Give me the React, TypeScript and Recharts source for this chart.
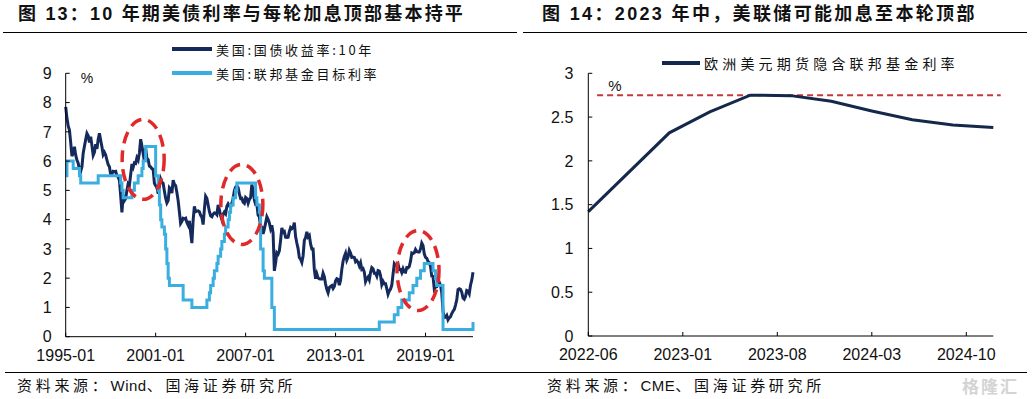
import React from 'react';
import { LineChart, Line, XAxis, YAxis, ReferenceDot, ReferenceLine, Legend } from 'recharts';

const FONT = '"Liberation Sans", Arial, "Noto Sans CJK SC", sans-serif';
const CJK = '"Noto Sans CJK SC", "Liberation Sans", sans-serif';

const NAVY = '#152a5c';
const SKY = '#3aaee0';
const DARK = '#14284b';
const RED = '#e0292b';

// ---- figure 13: monthly, 1995-01 .. 2022-03 ----
const treasury10y = [
  7.85, 7.47, 7.2, 7.06, 6.63, 6.17, 6.28, 6.49, 6.2, 6.04, 5.93, 5.71,
  5.65, 5.81, 6.27, 6.51, 6.74, 6.95, 6.87, 6.64, 6.83, 6.53, 6.2, 6.3,
  6.58, 6.42, 6.75, 6.95, 6.71, 6.49, 6.22, 6.3, 6.21, 6.03, 5.88, 5.81,
  5.54, 5.57, 5.65, 5.64, 5.65, 5.5, 5.46, 5.34, 4.81, 4.25, 4.83, 4.65,
  4.72, 5.0, 5.23, 5.18, 5.54, 5.9, 5.79, 5.94, 5.92, 6.11, 6.03, 6.28,
  6.75, 6.52, 6.26, 5.99, 6.44, 6.1, 6.05, 5.83, 5.8, 5.74, 5.72, 5.24,
  5.16, 5.1, 4.89, 5.14, 5.39, 5.28, 5.24, 4.97, 4.73, 4.57, 4.65, 5.09,
  5.04, 4.91, 5.35, 5.21, 5.16, 4.93, 4.65, 4.26, 3.87, 3.94, 4.05, 4.03,
  4.05, 3.9, 3.81, 3.96, 3.57, 3.2, 3.98, 4.45, 4.27, 4.29, 4.3, 4.27,
  4.15, 4.08, 3.83, 4.35, 4.8, 4.73, 4.5, 4.28, 4.13, 4.1, 4.19, 4.23,
  4.22, 4.17, 4.5, 4.34, 4.14, 4.0, 4.18, 4.26, 4.2, 4.46, 4.54, 4.47,
  4.42, 4.57, 4.72, 4.99, 5.11, 5.15, 5.09, 4.88, 4.72, 4.73, 4.6, 4.56,
  4.76, 4.72, 4.56, 4.69, 4.75, 5.2, 5.0, 4.67, 4.52, 4.53, 4.15, 4.1,
  3.74, 3.74, 3.51, 3.68, 3.88, 4.1, 4.01, 3.89, 3.69, 3.81, 3.53, 2.25,
  2.52, 2.87, 2.82, 2.93, 3.29, 3.72, 3.56, 3.59, 3.4, 3.39, 3.4, 3.59,
  3.73, 3.69, 3.73, 3.9, 3.42, 3.2, 3.01, 2.7, 2.65, 2.54, 2.76, 3.29,
  3.39, 3.58, 3.41, 3.46, 3.17, 3.0, 3.0, 2.3, 1.98, 2.15, 2.01, 1.98,
  1.97, 1.97, 2.17, 2.05, 1.8, 1.62, 1.5, 1.68, 1.72, 1.75, 1.65, 1.72,
  1.91, 1.98, 1.96, 1.76, 1.93, 2.3, 2.58, 2.74, 2.85, 2.62, 2.72, 2.95,
  2.86, 2.71, 2.72, 2.71, 2.56, 2.6, 2.54, 2.42, 2.53, 2.3, 2.33, 2.21,
  1.88, 1.98, 2.04, 1.94, 2.2, 2.36, 2.32, 2.17, 2.17, 2.07, 2.26, 2.24,
  2.09, 1.78, 1.89, 1.81, 1.81, 1.64, 1.45, 1.56, 1.63, 1.76, 2.14, 2.49,
  2.43, 2.42, 2.48, 2.3, 2.3, 2.19, 2.32, 2.21, 2.2, 2.36, 2.35, 2.4,
  2.58, 2.86, 2.84, 2.87, 2.98, 2.91, 2.89, 2.89, 3.0, 3.2, 3.12, 2.83,
  2.71, 2.68, 2.57, 2.53, 2.4, 2.07, 2.06, 1.63, 1.7, 1.71, 1.81, 1.86,
  1.76, 1.5, 0.87, 0.66, 0.67, 0.73, 0.58, 0.65, 0.68, 0.79, 0.87, 0.93,
  1.08, 1.26, 1.61, 1.64, 1.62, 1.52, 1.32, 1.28, 1.37, 1.58, 1.56, 1.47,
  1.76, 1.93, 2.2,
];

const fedTarget = [
  5.5, 6, 6, 6, 6, 6, 5.75, 5.75, 5.75, 5.75, 5.75, 5.5,
  5.25, 5.25, 5.25, 5.25, 5.25, 5.25, 5.25, 5.25, 5.25, 5.25, 5.25, 5.25,
  5.25, 5.25, 5.5, 5.5, 5.5, 5.5, 5.5, 5.5, 5.5, 5.5, 5.5, 5.5,
  5.5, 5.5, 5.5, 5.5, 5.5, 5.5, 5.5, 5.5, 5.25, 5.0, 4.75, 4.75,
  4.75, 4.75, 4.75, 4.75, 4.75, 5.0, 5.0, 5.25, 5.25, 5.25, 5.5, 5.5,
  5.5, 5.75, 6.0, 6.0, 6.5, 6.5, 6.5, 6.5, 6.5, 6.5, 6.5, 6.5,
  5.5, 5.5, 5.0, 4.5, 4.0, 3.75, 3.75, 3.5, 3.0, 2.5, 2.0, 1.75,
  1.75, 1.75, 1.75, 1.75, 1.75, 1.75, 1.75, 1.75, 1.75, 1.75, 1.25, 1.25,
  1.25, 1.25, 1.25, 1.25, 1.25, 1.0, 1.0, 1.0, 1.0, 1.0, 1.0, 1.0,
  1.0, 1.0, 1.0, 1.0, 1.0, 1.25, 1.25, 1.5, 1.75, 1.75, 2.0, 2.25,
  2.25, 2.5, 2.75, 2.75, 3.0, 3.25, 3.25, 3.5, 3.75, 3.75, 4.0, 4.25,
  4.5, 4.5, 4.75, 4.75, 5.0, 5.25, 5.25, 5.25, 5.25, 5.25, 5.25, 5.25,
  5.25, 5.25, 5.25, 5.25, 5.25, 5.25, 5.25, 5.25, 4.75, 4.5, 4.5, 4.25,
  3.0, 3.0, 2.25, 2.0, 2.0, 2.0, 2.0, 2.0, 2.0, 1.0, 1.0, 0.25,
  0.25, 0.25, 0.25, 0.25, 0.25, 0.25, 0.25, 0.25, 0.25, 0.25, 0.25, 0.25,
  0.25, 0.25, 0.25, 0.25, 0.25, 0.25, 0.25, 0.25, 0.25, 0.25, 0.25, 0.25,
  0.25, 0.25, 0.25, 0.25, 0.25, 0.25, 0.25, 0.25, 0.25, 0.25, 0.25, 0.25,
  0.25, 0.25, 0.25, 0.25, 0.25, 0.25, 0.25, 0.25, 0.25, 0.25, 0.25, 0.25,
  0.25, 0.25, 0.25, 0.25, 0.25, 0.25, 0.25, 0.25, 0.25, 0.25, 0.25, 0.25,
  0.25, 0.25, 0.25, 0.25, 0.25, 0.25, 0.25, 0.25, 0.25, 0.25, 0.25, 0.25,
  0.25, 0.25, 0.25, 0.25, 0.25, 0.25, 0.25, 0.25, 0.25, 0.25, 0.25, 0.5,
  0.5, 0.5, 0.5, 0.5, 0.5, 0.5, 0.5, 0.5, 0.5, 0.5, 0.5, 0.75,
  0.75, 0.75, 1.0, 1.0, 1.0, 1.25, 1.25, 1.25, 1.25, 1.25, 1.25, 1.5,
  1.5, 1.5, 1.75, 1.75, 1.75, 2.0, 2.0, 2.0, 2.25, 2.25, 2.25, 2.5,
  2.5, 2.5, 2.5, 2.5, 2.5, 2.5, 2.25, 2.25, 2.0, 1.75, 1.75, 1.75,
  1.75, 1.75, 0.25, 0.25, 0.25, 0.25, 0.25, 0.25, 0.25, 0.25, 0.25, 0.25,
  0.25, 0.25, 0.25, 0.25, 0.25, 0.25, 0.25, 0.25, 0.25, 0.25, 0.25, 0.25,
  0.25, 0.25, 0.5,
];

const leftTicks = ['1995-01', '2001-01', '2007-01', '2013-01', '2019-01'];
const leftYTicks = [0, 1, 2, 3, 4, 5, 6, 7, 8, 9];

// circled rate-hike tops: [month, yield centre]
const hikeTops: [string, number][] = [
  ['2000-03', 6.06],
  ['2006-10', 4.52],
  ['2018-07', 2.26],
];

const months: string[] = [];
for (let i = 0; i < treasury10y.length; i++) {
  const y = 1995 + Math.floor(i / 12);
  const m = (i % 12) + 1;
  months.push(`${y}-${m < 10 ? '0' + m : m}`);
}
const leftData = months.map((d, i) => ({ date: d, y10: treasury10y[i], ffr: fedTarget[i] }));

// ---- figure 14 ----
const futDates = ['2022-06', '2022-12', '2023-03', '2023-06', '2023-09', '2023-12', '2024-03', '2024-06', '2024-09', '2024-12'];
const futRate = [1.42, 2.32, 2.56, 2.75, 2.745, 2.68, 2.57, 2.47, 2.41, 2.38];
const rightTickMonths = [0, 7, 14, 21, 28];
const rightTickLabels = ['2022-06', '2023-01', '2023-08', '2024-03', '2024-10'];
const rightYTicks = [0, 0.5, 1, 1.5, 2, 2.5, 3];
const peakLevel = 2.75;

const monthIndex = (s: string) => {
  const [y, m] = s.split('-').map(Number);
  return (y - 2022) * 12 + (m - 6);
};
const rightData = futDates.map((d, i) => ({ m: monthIndex(d), rate: futRate[i] }));

const XTick = ({ x, y, payload, fmt }: any) => (
  <g>
    <line x1={x} x2={x} y1={y} y2={y - 4} stroke="#000" />
    <text x={x} y={y + 24} textAnchor="middle" fontSize={16} fontFamily={FONT} fill="#111">
      {fmt ? fmt(payload.value) : payload.value}
    </text>
  </g>
);

const YTick = ({ x, y, payload, gap }: any) => (
  <g>
    <line x1={x} x2={x + 4} y1={y} y2={y} stroke="#000" />
    <text x={x - gap} y={y} dy="0.355em" textAnchor="end" fontSize={16} fontFamily={FONT} fill="#111">
      {payload.value}
    </text>
  </g>
);

const LegendBox = ({ payload, fontSize, spacing, sample }: any) => (
  <div>
    {(payload || []).map((p: any) => (
      <div key={p.value} style={{ display: 'flex', alignItems: 'center', height: 24 }}>
        <span style={{ display: 'inline-block', width: sample, height: 4, background: p.color, marginRight: 4 }} />
        <span style={{ fontFamily: CJK, fontSize, letterSpacing: spacing, color: '#111', whiteSpace: 'nowrap' }}>
          {p.value}
        </span>
      </div>
    ))}
  </div>
);

const hline = (left: number, top: number, width: number) => (
  <div style={{ position: 'absolute', left, top, width, height: 1.5, background: '#000' }} />
);

const textAt = (left: number, cy: number, text: React.ReactNode, style: React.CSSProperties) => (
  <div style={{ position: 'absolute', left, top: cy - 13, height: 26, lineHeight: '26px', whiteSpace: 'nowrap', ...style }}>
    {text}
  </div>
);

const source = (latin: string) => (
  <>
    <span style={{ letterSpacing: 3.7 }}>资料来源：</span>
    <span style={{ fontFamily: FONT, letterSpacing: 0.5 }}>{latin}</span>
    <span style={{ letterSpacing: 3.7 }}>、国海证券研究所</span>
  </>
);

export default function App() {
  return (
    <div style={{ position: 'absolute', left: 0, top: 0, width: 1035, height: 399, background: '#fff', overflow: 'hidden' }}>
      {textAt(18, 14, '图 13：10 年期美债利率与每轮加息顶部基本持平', { fontFamily: FONT, fontWeight: 700, fontSize: 18, letterSpacing: 2.2, color: '#111' })}
      {textAt(542, 14, '图 14：2023 年中，美联储可能加息至本轮顶部', { fontFamily: FONT, fontWeight: 700, fontSize: 18, letterSpacing: 2.35, color: '#111' })}
      {hline(3, 31.5, 514)}
      {hline(523, 31.5, 504)}

      <div style={{ position: 'absolute', left: 0, top: 0 }}>
        <LineChart width={520} height={399} data={leftData} margin={{ top: 73.3, right: 47, bottom: 32.3, left: 5.7 }}>
          <XAxis
            dataKey="date"
            ticks={leftTicks}
            interval={0}
            height={30}
            tickSize={0}
            tickMargin={0}
            tick={<XTick />}
            tickLine={false}
            axisLine={{ stroke: '#000' }}
          />
          <YAxis
            domain={[0, 9]}
            ticks={leftYTicks}
            width={60}
            tickSize={0}
            tickMargin={0}
            tick={<YTick gap={14} />}
            tickLine={false}
            axisLine={{ stroke: '#000' }}
          />
          <Legend
            layout="vertical"
            align="center"
            verticalAlign="middle"
            wrapperStyle={{ left: 172, top: 37.3, width: 'auto', height: 'auto' }}
            content={(p: any) => <LegendBox payload={p.payload} fontSize={13} spacing={2.7} sample={40} />}
          />
          <Line name="美国:国债收益率:10年" dataKey="y10" stroke={NAVY} strokeWidth={3} dot={false} isAnimationActive={false} />
          <Line name="美国:联邦基金目标利率" dataKey="ffr" type="stepAfter" stroke={SKY} strokeWidth={3} dot={false} isAnimationActive={false} />
          {hikeTops.map(([d, v]) => (
            <ReferenceDot
              key={d}
              x={d}
              y={v}
              r={1}
              shape={(p: any) => (
                <ellipse cx={p.cx} cy={p.cy} rx={21} ry={40} fill="none" stroke={RED} strokeWidth={3.5} strokeDasharray="12 7" />
              )}
            />
          ))}
        </LineChart>
      </div>
      {textAt(87, 78.3, '%', { fontFamily: FONT, fontSize: 14, transform: 'translateX(-50%)', color: '#111' })}

      <div style={{ position: 'absolute', left: 520, top: 0 }}>
        <LineChart width={515} height={399} data={rightData} margin={{ top: 73.3, right: 41.7, bottom: 33, left: 8.3 }}>
          <XAxis
            dataKey="m"
            type="number"
            domain={[0, 30]}
            ticks={rightTickMonths}
            interval={0}
            height={30}
            tickSize={0}
            tickMargin={0}
            tick={<XTick fmt={(v: number) => rightTickLabels[rightTickMonths.indexOf(v)]} />}
            tickLine={false}
            axisLine={{ stroke: '#000' }}
          />
          <YAxis
            domain={[0, 3]}
            ticks={rightYTicks}
            width={60}
            tickSize={0}
            tickMargin={0}
            tick={<YTick gap={15} />}
            tickLine={false}
            axisLine={{ stroke: '#000' }}
          />
          <Legend
            layout="vertical"
            align="center"
            verticalAlign="middle"
            wrapperStyle={{ left: 142, top: 50.7, width: 'auto', height: 'auto' }}
            content={(p: any) => <LegendBox payload={p.payload} fontSize={14} spacing={4.2} sample={38} />}
          />
          <ReferenceLine
            segment={[{ x: 0.65, y: peakLevel }, { x: 30.55, y: peakLevel }]}
            ifOverflow="visible"
            stroke="#c8383a"
            strokeWidth={2}
            strokeDasharray="6 4"
          />
          <Line name="欧洲美元期货隐含联邦基金利率" dataKey="rate" type="linear" stroke={DARK} strokeWidth={3} dot={false} isAnimationActive={false} />
        </LineChart>
      </div>
      {textAt(615, 86, '%', { fontFamily: FONT, fontSize: 15, transform: 'translateX(-50%)', color: '#111' })}

      {hline(5, 371.5, 1022)}
      {textAt(17, 385, source('Wind'), { fontFamily: CJK, fontSize: 15, color: '#111' })}
      {textAt(547, 385, source('CME'), { fontFamily: CJK, fontSize: 15, color: '#111' })}
      {textAt(962, 386, '格隆汇', { fontFamily: CJK, fontSize: 17, letterSpacing: 2, color: '#d4d4d4', fontWeight: 700 })}
    </div>
  );
}
